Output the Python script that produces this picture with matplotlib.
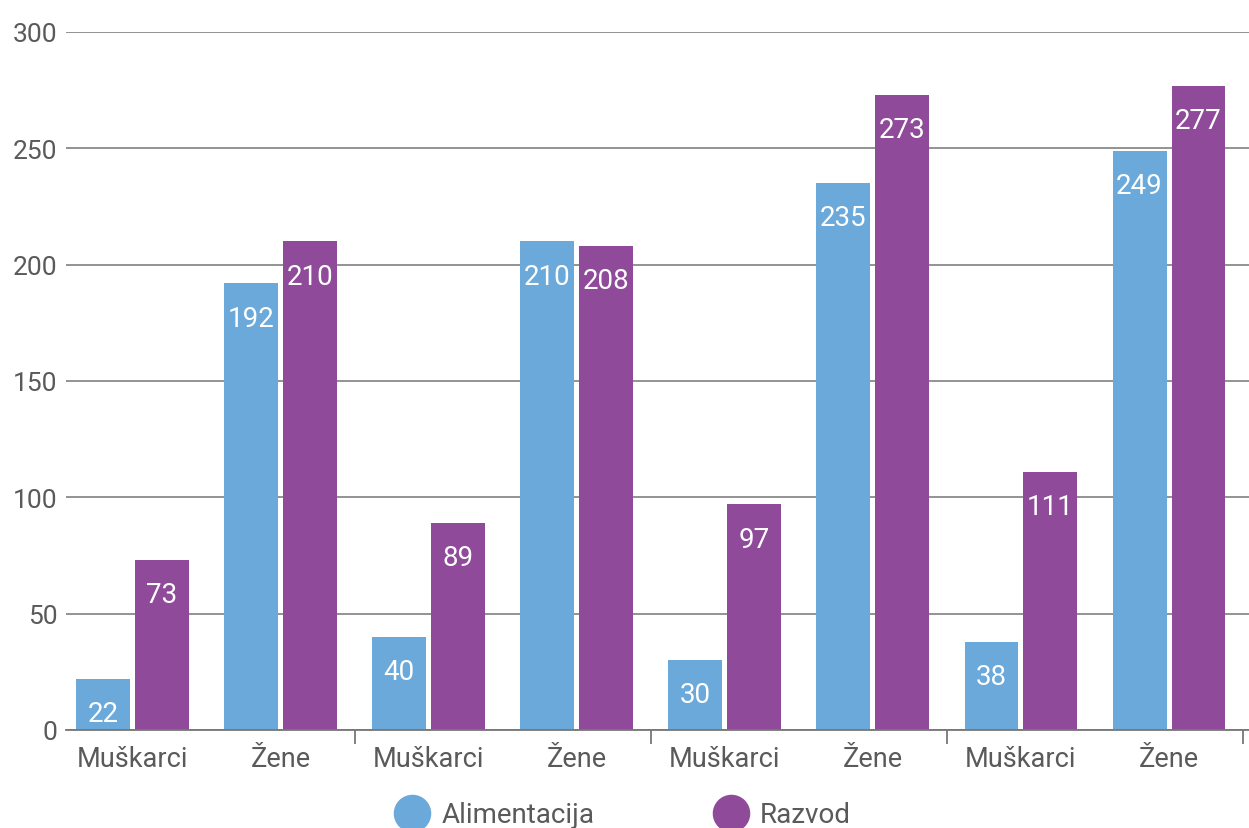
import numpy as np
import matplotlib.pyplot as plt
from matplotlib.lines import Line2D

plt.rcParams['font.family'] = ['Roboto', 'DejaVu Sans']

# data
categories = ["Muškarci", "Žene", "Muškarci", "Žene", "Muškarci", "Žene", "Muškarci", "Žene"]
alimentacija = [22, 192, 40, 210, 30, 235, 38, 249]
razvod = [73, 210, 89, 208, 97, 273, 111, 277]
series_names = ["Alimentacija", "Razvod"]
yticks = [0, 50, 100, 150, 200, 250, 300]

blue = "#6aa9da"
purple = "#8f4a9a"
grey_txt = "#5a5a5a"

fig = plt.figure(figsize=(12.49, 8.29), dpi=100)
ax = fig.add_axes([66 / 1249, 98 / 829, 1183 / 1249, 698 / 829])

x = np.arange(len(categories))
w = 0.364
off = 0.199
b1 = ax.bar(x - off, alimentacija, w, color=blue, zorder=2)
b2 = ax.bar(x + off, razvod, w, color=purple, zorder=2)

# value labels inside the bar tops
for bars in (b1, b2):
    for r in bars:
        h = r.get_height()
        ax.annotate(f"{h:g}", (r.get_x() + r.get_width() / 2, h), xytext=(0, -25),
                    textcoords="offset points", ha="center", va="center",
                    color="white", fontsize=20)

ax.set_ylim(0, 300)
ax.set_xlim(-0.449, 7.540)
ax.set_yticks(yticks)
ax.yaxis.grid(True, color="#8a8a8a", lw=1.3, zorder=0)
ax.set_axisbelow(True)
ax.tick_params(axis="y", length=0, pad=6, labelsize=19, labelcolor=grey_txt)

ax.set_xticks(x)
ax.set_xticklabels(categories)
ax.tick_params(axis="x", which="major", length=0, pad=11, labelsize=19.5, labelcolor=grey_txt)
ax.set_xticks([1.5, 3.5, 5.5, 7.5], minor=True)
ax.tick_params(axis="x", which="minor", length=10, width=1.3, color="#777777")

for s in ["top", "right", "left"]:
    ax.spines[s].set_visible(False)
ax.spines["bottom"].set_color("#777777")
ax.spines["bottom"].set_linewidth(1.3)

handles = [Line2D([], [], ls="", marker="o", markersize=26, color=c) for c in (blue, purple)]
fig.legend(handles, series_names, loc="center", bbox_to_anchor=(0.5, 13 / 829),
           ncol=2, frameon=False, fontsize=20, labelcolor=grey_txt,
           handletextpad=0.55, columnspacing=4.4, handlelength=1.0)

fig.savefig("out.png", dpi=100)
